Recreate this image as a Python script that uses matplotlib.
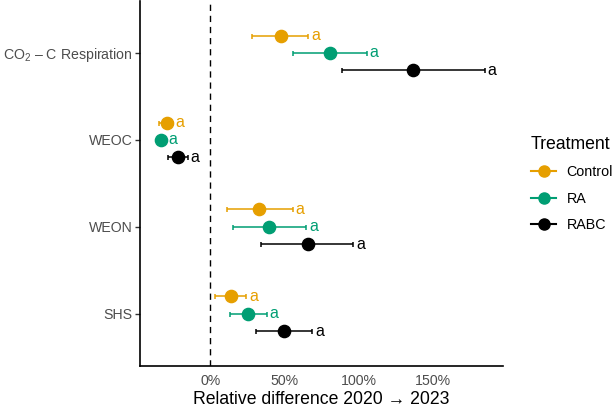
import matplotlib.pyplot as plt
from matplotlib.lines import Line2D

plt.rcParams['font.family'] = ['Liberation Sans', 'DejaVu Sans']
plt.rcParams['mathtext.fontset'] = 'custom'
plt.rcParams['mathtext.rm'] = 'Liberation Sans'

# Variables, top to bottom
variables = [r"CO$_\mathregular{2}$ – C Respiration", "WEOC", "WEON", "SHS"]
treatments = ["Control", "RA", "RABC"]
colors = {"Control": "#E69F00", "RA": "#009E73", "RABC": "#000000"}

# relative difference (%) per treatment, in variable order
mean = {
    "Control": [47.4, -29.1, 33.1, 13.8],
    "RA":      [80.7, -33.1, 39.7, 25.1],
    "RABC":    [136.8, -22.0, 65.6, 50.0],
}
lower = {
    "Control": [27.8, -34.4, 11.1, 3.2],
    "RA":      [55.6, -35.7, 15.1, 13.0],
    "RABC":    [88.9, -28.6, 34.4, 31.0],
}
upper = {
    "Control": [66.1, -25.4, 55.6, 24.3],
    "RA":      [105.6, -30.4, 64.8, 38.1],
    "RABC":    [185.2, -15.3, 96.6, 68.8],
}
letters = {
    "Control": ["a", "a", "a", "a"],
    "RA":      ["a", "a", "a", "a"],
    "RABC":    ["a", "a", "a", "a"],
}

fig = plt.figure(figsize=(6.14, 4.08), dpi=100)
ax = fig.add_axes([0.228, 0.103, 0.591, 0.895])

n = len(variables)
base = [n - i for i in range(n)]
offsets = {"Control": 0.2, "RA": 0.0, "RABC": -0.2}

ax.axvline(0, color='black', lw=1.0, linestyle=(0, (4.5, 3.5)), zorder=1)

for t in treatments:
    ys = [b + offsets[t] for b in base]
    xerr = [[m - lo for m, lo in zip(mean[t], lower[t])],
            [hi - m for m, hi in zip(mean[t], upper[t])]]
    ax.errorbar(mean[t], ys, xerr=xerr, fmt='o', color=colors[t], ms=8.8,
                elinewidth=1.1, capsize=1.8, capthick=1.1, zorder=3)
    for hi, y, lab in zip(upper[t], ys, letters[t]):
        ax.annotate(lab, (hi, y), xytext=(2, 0), textcoords='offset points',
                    ha='left', va='center', fontsize=11.5, color=colors[t])

ax.set_xlim(-47.5, 197.5)
ax.set_ylim(0.4, 4.6)
ax.set_yticks(base)
ax.set_yticklabels(variables)
ax.set_xticks([0, 50, 100, 150])
ax.set_xticklabels(["0%", "50%", "100%", "150%"])
ax.tick_params(axis='y', length=3.5, width=1, colors='#333333', labelsize=10.2,
               labelcolor='#4D4D4D', pad=2)
ax.tick_params(axis='x', length=0, labelsize=10.2, labelcolor='#4D4D4D', pad=6)
ax.set_xlabel("Relative difference 2020 → 2023", fontsize=12.7, labelpad=2)

for side in ['top', 'right']:
    ax.spines[side].set_visible(False)
for side in ['left', 'bottom']:
    ax.spines[side].set_linewidth(1.2)

handles = [Line2D([0], [0], color=colors[t], marker='o', ms=8, lw=1.5) for t in treatments]
leg = fig.legend(handles, treatments, title="Treatment", loc='upper left',
                 bbox_to_anchor=(0.855, 0.68), frameon=False, fontsize=10.3,
                 title_fontsize=12.7, handlelength=1.8, labelspacing=0.85,
                 handletextpad=0.7, borderaxespad=0)
leg._legend_box.align = "left"

fig.savefig("out.png", dpi=100)
